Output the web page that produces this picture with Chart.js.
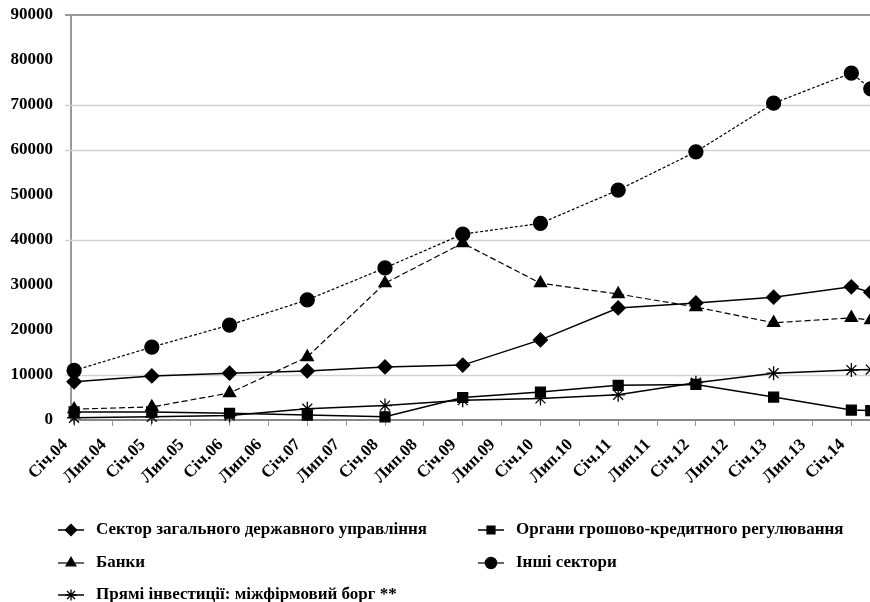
<!DOCTYPE html>
<html>
<head>
<meta charset="utf-8">
<script src="https://cdn.jsdelivr.net/npm/chart.js@4.4.1/dist/chart.umd.min.js"></script>
<style>
  html, body { margin: 0; padding: 0; background: #fff; }
  #wrap { width: 870px; height: 602px; }
</style>
</head>
<body>
<div id="wrap"><canvas id="myChart"></canvas></div>
<script>
// періоди спостережень (роки, 2014.25 = квітень 2014)
const periods = [2004, 2005, 2006, 2007, 2008, 2009, 2010, 2011, 2012, 2013, 2014, 2014.25];

// підписи осі X (кожні пів року)
const tickValues = [2004, 2004.5, 2005, 2005.5, 2006, 2006.5, 2007, 2007.5, 2008, 2008.5,
                    2009, 2009.5, 2010, 2010.5, 2011, 2011.5, 2012, 2012.5, 2013, 2013.5, 2014];
const tickLabels = ['Січ.04', 'Лип.04', 'Січ.05', 'Лип.05', 'Січ.06', 'Лип.06', 'Січ.07', 'Лип.07',
                    'Січ.08', 'Лип.08', 'Січ.09', 'Лип.09', 'Січ.10', 'Лип.10', 'Січ.11', 'Лип.11',
                    'Січ.12', 'Лип.12', 'Січ.13', 'Лип.13', 'Січ.14'];

// лінії сітки, які видно на оригіналі
const visibleGrid = [10000, 40000, 60000, 70000];

// дані
const govSector    = [8500, 9800, 10400, 10900, 11800, 12200, 17800, 24900, 26000, 27300, 29600, 28400];
const monetary     = [1800, 1800, 1500, 1100, 700, 5000, 6200, 7700, 7900, 5100, 2200, 2100];
const banks        = [2400, 2900, 6000, 14000, 30400, 39300, 30400, 28000, 25100, 21600, 22700, 22200];
const otherSectors = [11000, 16200, 21100, 26700, 33800, 41300, 43700, 51100, 59600, 70400, 77100, 73600];
const directInv    = [500, 700, 1000, 2500, 3200, 4400, 4800, 5600, 8300, 10400, 11100, 11200];

const toPoints = arr => periods.map((p, i) => ({ x: p, y: arr[i] }));

const serif = '"Liberation Serif", "DejaVu Serif", serif';

// місця підписів легенди: [колонка, рядок]
const legendSlots = [[0, 0], [1, 0], [0, 1], [1, 1], [0, 2]];
const legendCols = [58, 478];
const legendRows = [530, 563, 595];

const bottomLegend = {
    id: 'bottomLegend',
    afterDraw(chart) {
        const ctx = chart.ctx;
        chart.data.datasets.forEach((ds, i) => {
            const x = legendCols[legendSlots[i][0]];
            const y = legendRows[legendSlots[i][1]];
            ctx.save();
            ctx.strokeStyle = '#000';
            ctx.fillStyle = '#000';
            ctx.lineWidth = ds.borderWidth;
            ctx.beginPath();
            ctx.moveTo(x, y);
            ctx.lineTo(x + 26, y);
            ctx.stroke();
            ctx.lineWidth = 1.3;
            Chart.helpers.drawPoint(ctx, {
                pointStyle: ds.pointStyle,
                radius: ds.pointRadius * 0.8,
                borderWidth: 1.3,
                rotation: 0
            }, x + 13, y);
            ctx.font = 'bold 17px ' + serif;
            ctx.textBaseline = 'middle';
            ctx.textAlign = 'left';
            ctx.fillText(ds.label, x + 38, y);
            ctx.restore();
        });
    }
};

// сітка: лише ті лінії, що видно на оригіналі
const gridLines = {
    id: 'gridLines',
    beforeDatasetsDraw(chart) {
        const ctx = chart.ctx;
        const y = chart.scales.y;
        const area = chart.chartArea;
        ctx.save();
        ctx.strokeStyle = '#d2d2d2';
        ctx.lineWidth = 1.5;
        visibleGrid.forEach(v => {
            const py = Math.round(y.getPixelForValue(v)) + 0.5;
            ctx.beginPath();
            ctx.moveTo(area.left - 6, py);
            ctx.lineTo(area.right, py);
            ctx.stroke();
        });
        ctx.strokeStyle = '#999';
        ctx.lineWidth = 2;
        const top = y.getPixelForValue(90000);
        ctx.beginPath();
        ctx.moveTo(area.left - 6, top);
        ctx.lineTo(area.right, top);
        ctx.stroke();
        ctx.restore();
    }
};

function series(label, arr, style, width, dash) {
    return {
        label: label,
        data: toPoints(arr),
        borderColor: '#000',
        backgroundColor: '#000',
        borderWidth: width,
        borderDash: dash,
        pointStyle: style,
        pointRadius: 7,
        pointBorderWidth: 1.3,
        pointBackgroundColor: '#000',
        pointBorderColor: '#000',
        tension: 0,
        clip: false
    };
}

const ctx = document.getElementById('myChart').getContext('2d');
new Chart(ctx, {
    type: 'line',
    data: {
        datasets: [
            series('Сектор загального державного управління', govSector, 'rectRot', 1.5, []),
            series('Органи грошово-кредитного регулювання', monetary, 'rect', 1.5, []),
            series('Банки', banks, 'triangle', 1.2, [6, 3]),
            series('Інші сектори', otherSectors, 'circle', 1.2, [3, 2]),
            series('Прямі інвестиції: міжфірмовий борг **', directInv, 'star', 1.5, [])
        ]
    },
    options: {
        responsive: true,
        maintainAspectRatio: false,
        animation: false,
        layout: { autoPadding: false, padding: { top: 15, right: 0, bottom: 104, left: 0 } },
        plugins: {
            legend: { display: false },
            tooltip: { enabled: false }
        },
        scales: {
            x: {
                type: 'linear',
                min: 2003.96,
                max: 2014.24,
                afterBuildTicks: s => { s.ticks = tickValues.map(v => ({ value: v })); },
                afterFit: s => { s.height = 78; s.paddingLeft = 0; s.paddingRight = 0; },
                ticks: {
                    autoSkip: false,
                    minRotation: 45,
                    maxRotation: 45,
                    color: '#000',
                    padding: 9,
                    labelOffset: -9,
                    font: { family: serif, weight: 'bold', size: 17 },
                    callback: (v, i) => tickLabels[i]
                },
                grid: { drawOnChartArea: false, color: '#999', tickLength: 6 },
                border: { color: '#888', width: 2 }
            },
            y: {
                min: 0,
                max: 90000,
                afterFit: s => { s.width = 71; s.paddingTop = 0; s.paddingBottom = 0; },
                ticks: {
                    stepSize: 10000,
                    color: '#000',
                    padding: 10,
                    font: { family: serif, weight: 'bold', size: 17 },
                    callback: v => String(v)
                },
                grid: { display: false },
                border: { color: '#999', width: 2 }
            }
        }
    },
    plugins: [gridLines, bottomLegend]
});
</script>
</body>
</html>
